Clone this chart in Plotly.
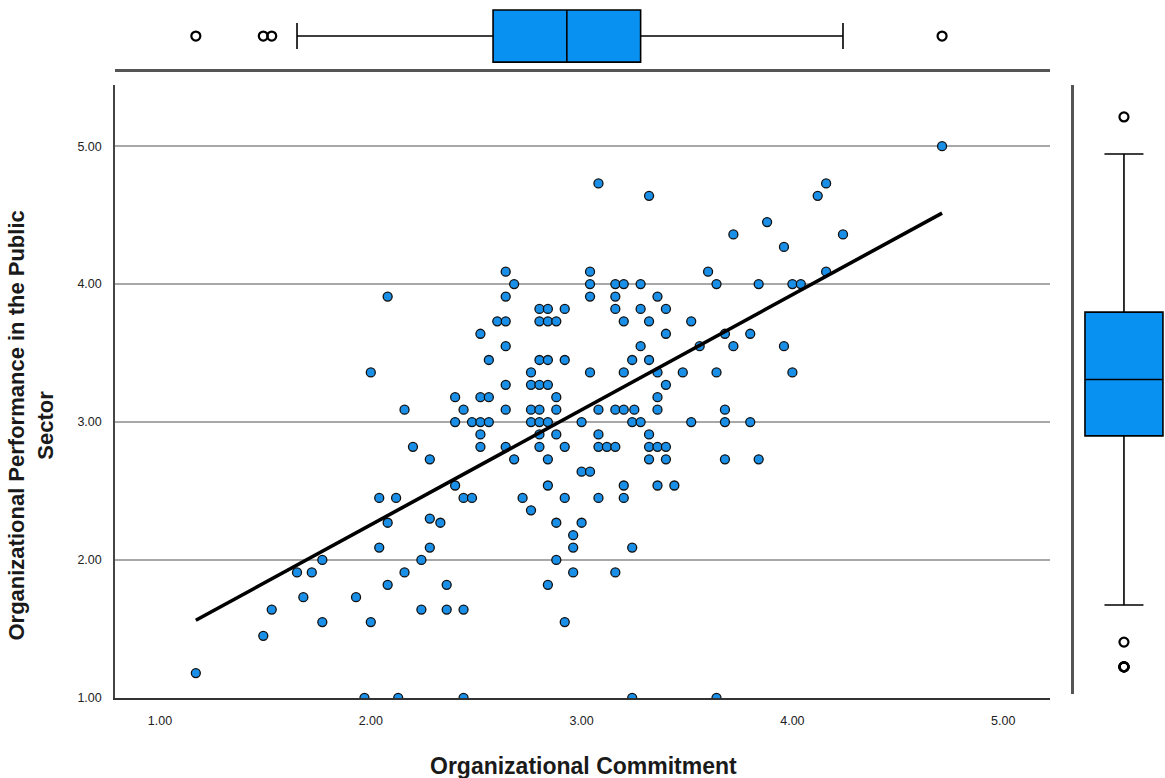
import numpy as np
import plotly.graph_objects as go

# Organizational Commitment (x) and Organizational Performance in the Public Sector (y)
commitment = [
    1.17, 1.49, 1.53, 1.65, 1.68, 1.72, 1.77, 1.77, 1.93, 1.97,
    2.00, 2.00, 2.04, 2.04, 2.08, 2.08, 2.08, 2.12, 2.13, 2.16,
    2.16, 2.20, 2.24, 2.24, 2.28, 2.28, 2.28, 2.33,
    2.36, 2.36, 2.40, 2.40, 2.40, 2.44, 2.44, 2.44, 2.44, 2.48,
    2.48, 2.52, 2.52, 2.52, 2.52, 2.52, 2.56, 2.56, 2.56, 2.60,
    2.64, 2.64, 2.64, 2.64, 2.64, 2.64, 2.64, 2.68, 2.68, 2.72,
    2.76, 2.76, 2.76, 2.76, 2.76, 2.80, 2.80, 2.80, 2.80, 2.80,
    2.80, 2.80, 2.80, 2.84, 2.84, 2.84, 2.84, 2.84, 2.84, 2.84,
    2.84, 2.88, 2.88, 2.88, 2.88, 2.88, 2.88, 2.92, 2.92, 2.92,
    2.92, 2.92, 2.96, 2.96, 2.96,
    3.00, 3.00, 3.00, 3.04, 3.04, 3.04, 3.04, 3.04, 3.08, 3.08,
    3.08, 3.08, 3.08, 3.12, 3.16, 3.16, 3.16, 3.16, 3.16, 3.16,
    3.20, 3.20, 3.20, 3.20, 3.20, 3.20, 3.24, 3.24, 3.24, 3.24,
    3.25, 3.28, 3.28, 3.28, 3.28, 3.32, 3.32, 3.32, 3.32, 3.32,
    3.32, 3.36, 3.36, 3.36, 3.36, 3.36, 3.36, 3.40, 3.40, 3.40,
    3.40, 3.40, 3.44, 3.48, 3.52, 3.52, 3.56, 3.60, 3.64, 3.64,
    3.64, 3.68, 3.68, 3.68, 3.68, 3.72, 3.72,
    3.80, 3.80, 3.84, 3.84, 3.88, 3.96, 3.96, 4.00, 4.00, 4.04,
    4.12, 4.16, 4.16, 4.24, 4.71,
]
performance = [
    1.18, 1.45, 1.64, 1.91, 1.73, 1.91, 2.00, 1.55, 1.73, 1.00,
    3.36, 1.55, 2.45, 2.09, 3.91, 2.27, 1.82, 2.45, 1.00, 3.09,
    1.91, 2.82, 2.00, 1.64, 2.73, 2.30, 2.09, 2.27,
    1.82, 1.64, 3.18, 3.00, 2.54, 3.09, 2.45, 1.64, 1.00, 3.00,
    2.45, 3.64, 3.18, 3.00, 2.91, 2.82, 3.45, 3.18, 3.00, 3.73,
    4.09, 3.91, 3.73, 3.55, 3.27, 3.09, 2.82, 4.00, 2.73, 2.45,
    3.36, 3.27, 3.09, 3.00, 2.36, 3.82, 3.73, 3.45, 3.27, 3.09,
    3.00, 2.91, 2.82, 3.82, 3.73, 3.45, 3.27, 3.00, 2.73, 2.54,
    1.82, 3.73, 3.18, 3.09, 2.91, 2.27, 2.00, 3.82, 3.45, 2.82,
    2.45, 1.55, 2.18, 2.09, 1.91,
    3.00, 2.64, 2.27, 4.09, 4.00, 3.91, 3.36, 2.64, 4.73, 3.09,
    2.91, 2.82, 2.45, 2.82, 4.00, 3.91, 3.82, 3.09, 2.82, 1.91,
    4.00, 3.73, 3.36, 3.09, 2.54, 2.45, 3.45, 3.00, 2.09, 1.00,
    3.09, 4.00, 3.82, 3.55, 3.00, 4.64, 3.73, 3.45, 2.91, 2.82,
    2.73, 3.91, 3.36, 3.18, 3.09, 2.82, 2.54, 3.82, 3.64, 3.27,
    2.82, 2.73, 2.54, 3.36, 3.73, 3.00, 3.55, 4.09, 4.00, 3.36,
    1.00, 3.64, 3.09, 3.00, 2.73, 4.36, 3.55,
    3.64, 3.00, 4.00, 2.73, 4.45, 4.27, 3.55, 4.00, 3.36, 4.00,
    4.64, 4.73, 4.09, 4.36, 5.00,
]
tick_values = [1, 2, 3, 4, 5]
tick_labels = ["1.00", "2.00", "3.00", "4.00", "5.00"]

# box-plot statistics as drawn in the marginal panels
commit_q1, commit_median, commit_q3 = 2.58, 2.93, 3.28
commit_lowfence, commit_highfence = 1.65, 4.24
perf_q1, perf_median, perf_q3 = 2.68, 3.09, 3.58
perf_lowfence, perf_highfence = 1.45, 4.73

# fitted regression line
fit_intercept, fit_slope = 0.587, 0.834

W, H = 1165, 786
SY = H / 778.0
def px_x(p):
    return p / W
def px_y(p):
    return (H - p * SY) / H

x = np.array(commitment)
y = np.array(performance)
fit_x = np.array([x.min(), x.max()])
fit_y = fit_intercept + fit_slope * fit_x

x_out = x[(x < commit_lowfence) | (x > commit_highfence)]
y_out = y[(y < perf_lowfence) | (y > perf_highfence)]

POINT = "#1a8fe8"
BOX = "#0991f2"
FONT = "Liberation Sans, Arial, sans-serif"
OUTLIER = dict(symbol="circle-open", color="#000000", size=9, line=dict(width=2.2, color="#000000"))

fig = go.Figure()

fig.add_trace(go.Scatter(
    x=commitment, y=performance, mode="markers",
    marker=dict(size=9, color=POINT, line=dict(color="#111111", width=1.3)),
    xaxis="x", yaxis="y", showlegend=False, cliponaxis=True,
))
fig.add_trace(go.Scatter(
    x=fit_x, y=fit_y, mode="lines",
    line=dict(color="#000000", width=3.6),
    xaxis="x", yaxis="y", showlegend=False,
))

# top marginal box
fig.add_trace(go.Box(
    q1=[commit_q1], median=[commit_median], q3=[commit_q3],
    lowerfence=[commit_lowfence], upperfence=[commit_highfence],
    y=[0], orientation="h", xaxis="x2", yaxis="y2",
    width=0.754, whiskerwidth=0.5,
    fillcolor=BOX, line=dict(color="#000000", width=1.6),
    showlegend=False,
))
fig.add_trace(go.Scatter(
    x=x_out, y=np.zeros(len(x_out)), mode="markers", marker=OUTLIER,
    xaxis="x2", yaxis="y2", showlegend=False,
))
# right marginal box
fig.add_trace(go.Box(
    q1=[perf_q1], median=[perf_median], q3=[perf_q3],
    lowerfence=[perf_lowfence], upperfence=[perf_highfence],
    x=[0], xaxis="x3", yaxis="y3",
    width=0.857, whiskerwidth=0.5,
    fillcolor=BOX, line=dict(color="#000000", width=1.6),
    showlegend=False,
))
fig.add_trace(go.Scatter(
    x=np.zeros(len(y_out)), y=y_out, mode="markers", marker=OUTLIER,
    xaxis="x3", yaxis="y3", showlegend=False,
))

xr = [1 + (115 - 160) / 210.8, 1 + (1050 - 160) / 210.8]
yr = [1.0, 1 + (697 - 85) / 137.75]

fig.update_layout(
    width=W, height=H,
    margin=dict(l=0, r=0, t=0, b=0),
    paper_bgcolor="white", plot_bgcolor="white",
    font=dict(family=FONT, color="#1a1a1a"),
    xaxis=dict(
        domain=[px_x(115), px_x(1050)], range=xr, anchor="y",
        tickvals=tick_values, ticktext=tick_labels,
        tickfont=dict(size=12.5, color="#222222"),
        showgrid=False, zeroline=False,
        showline=True, linecolor="#333333", linewidth=2,
        ticks="", ticklabelstandoff=10,
    ),
    yaxis=dict(
        domain=[px_y(697), px_y(85)], range=yr, anchor="x",
        tickvals=tick_values, ticktext=tick_labels,
        tickfont=dict(size=12.5, color="#222222"),
        showgrid=True, gridcolor="#a8a8a8", gridwidth=1.5,
        zeroline=False,
        showline=True, linecolor="#444444", linewidth=1.5,
        ticks="", ticklabelstandoff=9,
    ),
    xaxis2=dict(
        domain=[px_x(115), px_x(1050)], range=xr, anchor="y2",
        showticklabels=False, showgrid=False, zeroline=False,
        showline=True, linecolor="#555555", linewidth=3, ticks="",
    ),
    yaxis2=dict(
        domain=[px_y(69), 1.0], range=[-0.478, 0.522], anchor="x2",
        visible=False,
    ),
    xaxis3=dict(
        domain=[px_x(1074), 1.0], range=[-0.549, 0.451], anchor="y3",
        visible=False,
    ),
    yaxis3=dict(
        domain=[px_y(693), px_y(85)],
        range=[1 - 27 / 137.3, 1 + (666 - 85) / 137.3], anchor="x3",
        showticklabels=False, showgrid=False, zeroline=False,
        showline=True, linecolor="#555555", linewidth=3, ticks="",
    ),
    annotations=[
        dict(text="Organizational Commitment", x=px_x(583), y=px_y(765),
             xref="paper", yref="paper", xanchor="center", yanchor="middle",
             showarrow=False, font=dict(size=23, family=FONT, color="#1a1a1a", weight="bold")),
        dict(text="Organizational Performance in the Public<br>Sector",
             x=px_x(31), y=px_y(425), xref="paper", yref="paper",
             xanchor="center", yanchor="middle", textangle=-90,
             showarrow=False, font=dict(size=22, family=FONT, color="#1a1a1a", weight="bold")),
    ],
)

fig.write_html(
    "out.html",
    config={"displayModeBar": False},
    post_script="document.body.style.margin='0';document.body.style.overflow='hidden';",
)
